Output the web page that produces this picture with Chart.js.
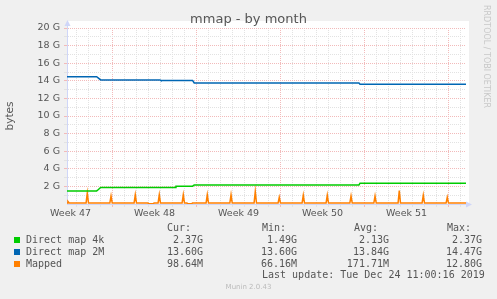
<!DOCTYPE html>
<html>
<head>
<meta charset="utf-8">
<script src="https://cdn.jsdelivr.net/npm/chart.js@4/dist/chart.umd.min.js"></script>
<style>
  html, body { margin: 0; padding: 0; background: #f0f0f0; }
  #wrap { position: relative; width: 497px; height: 299px; overflow: hidden; }
  #wrap canvas { position: absolute; left: 0; top: 0; }
  .txt { position: absolute; font: 10px "DejaVu Sans Mono", monospace; color: #555; white-space: pre; line-height: 12px; }
  .sw { position: absolute; left: 14px; width: 6px; height: 6px; }
  #title { position: absolute; left: 0; top: 11px; width: 497px; text-align: center; font: 13px "DejaVu Sans", sans-serif; line-height: 15px; color: #555; }
  #rrd { position: absolute; left: 482px; top: 5px; font: 8px "DejaVu Sans", sans-serif; color: #c8c8c8; writing-mode: vertical-rl; white-space: nowrap; }
  #munin { position: absolute; left: 0; top: 283px; width: 497px; text-align: center; font: 7px "DejaVu Sans", sans-serif; line-height: 9px; color: #bbb; }
</style>
</head>
<body>
<div id="wrap">
  <canvas id="cv" width="497" height="299"></canvas>
  <div id="title">mmap - by month</div>
  <div id="rrd">RRDTOOL / TOBI OETIKER</div>
  <div id="munin">Munin 2.0.43</div>
  <div id="legend"></div>
</div>
<script>
// ── Data (x = days from the left edge of the graph, y = GB) ──────────

const weekLabels = ['Week 47', 'Week 48', 'Week 49', 'Week 50', 'Week 51'];

const seriesNames  = ['Direct map 4k', 'Direct map 2M', 'Mapped'];
const seriesColors = ['#00cc00', '#0066b3', '#ff8000'];
const curValues = ['2.37G', '13.60G', '98.64M'];
const minValues = ['1.49G', '13.60G', '66.16M'];
const avgValues = ['2.13G', '13.84G', '171.71M'];
const maxValues = ['2.37G', '14.47G', '12.80G'];
const lastUpdate = 'Last update: Tue Dec 24 11:00:16 2019';

const map4kDays = [0, 2.47, 2.62, 2.8, 9.0, 9.08, 10.47, 10.6, 24.33, 24.42, 33.25];
const map4kGB   = [1.49, 1.49, 1.65, 1.88, 1.88, 2.03, 2.03, 2.17, 2.17, 2.37, 2.37];

const map2MDays = [0, 2.47, 2.62, 2.8, 7.75, 7.83, 10.47, 10.6, 24.33, 24.42, 33.25];
const map2MGB   = [14.46, 14.46, 14.3, 14.1, 14.1, 14.02, 14.02, 13.75, 13.75, 13.6, 13.6];

const mappedDays = [
  0, 0.08, 0.2,
  1.59, 1.69, 1.79,
  3.57, 3.67, 3.77,
  5.59, 5.69, 5.79,
  6.75, 6.8, 7.2, 7.25,
  7.59, 7.69, 7.79,
  9.59, 9.69, 9.79,
  10.0, 10.05, 10.4, 10.45,
  11.59, 11.69, 11.79,
  13.57, 13.67, 13.77,
  15.59, 15.69, 15.79,
  17.59, 17.69, 17.79,
  19.59, 19.69, 19.79,
  21.59, 21.69, 21.79,
  23.57, 23.67, 23.77,
  25.57, 25.67, 25.77,
  27.59, 27.69, 27.79,
  29.59, 29.69, 29.79,
  31.59, 31.69, 31.79,
  33.25,
];
const mappedGB = [
  0.1, 0.3, 0.1,
  0.1, 1.25, 0.1,
  0.1, 0.9, 0.1,
  0.1, 1.04, 0.1,
  0.1, 0.02, 0.02, 0.1,
  0.1, 1.04, 0.1,
  0.1, 1.04, 0.1,
  0.1, 0.02, 0.02, 0.1,
  0.1, 1.04, 0.1,
  0.1, 1.04, 0.1,
  0.1, 1.42, 0.1,
  0.1, 0.76, 0.1,
  0.1, 1.0, 0.1,
  0.1, 1.0, 0.1,
  0.1, 0.9, 0.1,
  0.1, 0.9, 0.1,
  0.1, 1.53, 0.1,
  0.1, 1.0, 0.1,
  0.1, 0.76, 0.1,
  0.1,
];

// ── Look ──────────────────────────────────────────────

const GRID  = '#e2e2e2';
const MGRID = '#f2baba';
const AXIS  = '#cfd6f8';
const FONT  = '"DejaVu Sans", sans-serif';

const pts = (xs, ys) => xs.map((x, i) => ({ x, y: ys[i] }));

// day lines every day, week lines (red) on the day boundary before each week label
const xTicks = [];
for (let k = 0; k < 33; k++) {
  const v = 0.75 + k;
  xTicks.push({ value: v, major: (v - 3.75) % 7 === 0 });
}
weekLabels.forEach((w, i) => xTicks.push({ value: 0.3 + 7 * i, week: w }));
xTicks.sort((a, b) => a.value - b.value);

// white canvas + axis arrows, rrdtool style
const frame = {
  id: 'frame',
  beforeDraw(c) {
    const { ctx, chartArea: a } = c;
    ctx.save();
    ctx.fillStyle = '#fff';
    ctx.fillRect(a.left, a.top - 7, a.right - a.left + 3, a.bottom - a.top + 7);
    ctx.restore();
  },
  afterDraw(c) {
    const { ctx, chartArea: a } = c;
    ctx.save();
    ctx.fillStyle = AXIS;
    ctx.strokeStyle = AXIS;
    ctx.beginPath();
    ctx.moveTo(a.left + 0.5, a.top); ctx.lineTo(a.left + 0.5, a.top - 3);
    ctx.stroke();
    ctx.beginPath();
    ctx.moveTo(a.left - 2.5, a.top - 2); ctx.lineTo(a.left + 3.5, a.top - 2); ctx.lineTo(a.left + 0.5, a.top - 8);
    ctx.fill();
    ctx.beginPath();
    ctx.moveTo(a.right, a.bottom - 2.5); ctx.lineTo(a.right, a.bottom + 3.5); ctx.lineTo(a.right + 6, a.bottom + 0.5);
    ctx.fill();
    ctx.restore();
  },
};

const line = (label, data, color) => ({
  label, data, borderColor: color, backgroundColor: color,
  borderWidth: 1.5, pointRadius: 0, tension: 0, fill: false,
});

new Chart(document.getElementById('cv'), {
  type: 'line',
  data: {
    datasets: [
      line(seriesNames[0], pts(map4kDays, map4kGB), seriesColors[0]),
      line(seriesNames[1], pts(map2MDays, map2MGB), seriesColors[1]),
      line(seriesNames[2], pts(mappedDays, mappedGB), seriesColors[2]),
    ],
  },
  options: {
    responsive: false, animation: false,
    layout: { padding: { left: 0, right: 31, top: 28, bottom: 79 } },
    plugins: { legend: { display: false }, tooltip: { enabled: false } },
    scales: {
      x: {
        type: 'linear', min: 0, max: 33.25,
        afterBuildTicks: s => { s.ticks = xTicks.map(t => ({ ...t })); },
        afterFit: s => { s.height = 16; },
        ticks: {
          autoSkip: false, maxRotation: 0, minRotation: 0, padding: 1,
          color: '#555', font: { family: FONT, size: 9.5 },
          callback: (v, i) => xTicks[i].week || '',
        },
        grid: {
          tickLength: 3,
          color: ctx => !ctx.tick || ctx.tick.week ? 'transparent' : (ctx.tick.major ? MGRID : GRID),
        },
        border: { color: AXIS, dash: [1, 1] },
      },
      y: {
        min: 0, max: 20,
        afterFit: s => { s.width = 67; },
        ticks: {
          stepSize: 1, autoSkip: false, padding: 4,
          color: '#555', font: { family: FONT, size: 9.5 },
          callback: v => (v > 0 && v % 2 === 0 ? v + ' G' : ''),
        },
        grid: {
          tickLength: 3,
          color: ctx => !ctx.tick || ctx.tick.value === 0 ? 'transparent' : (ctx.tick.value % 2 === 0 ? MGRID : GRID),
        },
        border: { color: AXIS, dash: [1, 1] },
        title: { display: true, text: 'bytes', color: '#555', font: { family: FONT, size: 10.5 }, padding: { top: 4, bottom: 0 } },
      },
    },
  },
  plugins: [frame],
});

// ── Legend table (monospace, rrdtool style) ─────────────

const legend = document.getElementById('legend');
function txt(text, css) {
  const d = document.createElement('div');
  d.className = 'txt';
  d.textContent = text;
  Object.assign(d.style, css);
  legend.appendChild(d);
}
const colEnds = [203, 297, 389, 482];
const heads = [['Cur:', 167], ['Min:', 262], ['Avg:', 354], ['Max:', 447]];
heads.forEach(([h, x]) => txt(h, { left: x + 'px', top: '222px' }));
seriesNames.forEach((name, i) => {
  const top = 234 + i * 12;
  const sw = document.createElement('div');
  sw.className = 'sw';
  sw.style.top = (237 + i * 12) + 'px';
  sw.style.background = seriesColors[i];
  legend.appendChild(sw);
  txt(name, { left: '26px', top: top + 'px' });
  [curValues, minValues, avgValues, maxValues].forEach((col, j) => {
    txt(col[i], { right: (497 - colEnds[j]) + 'px', top: top + 'px', textAlign: 'right' });
  });
});
txt(lastUpdate, { left: '262px', top: '268.5px' });
</script>
</body>
</html>
